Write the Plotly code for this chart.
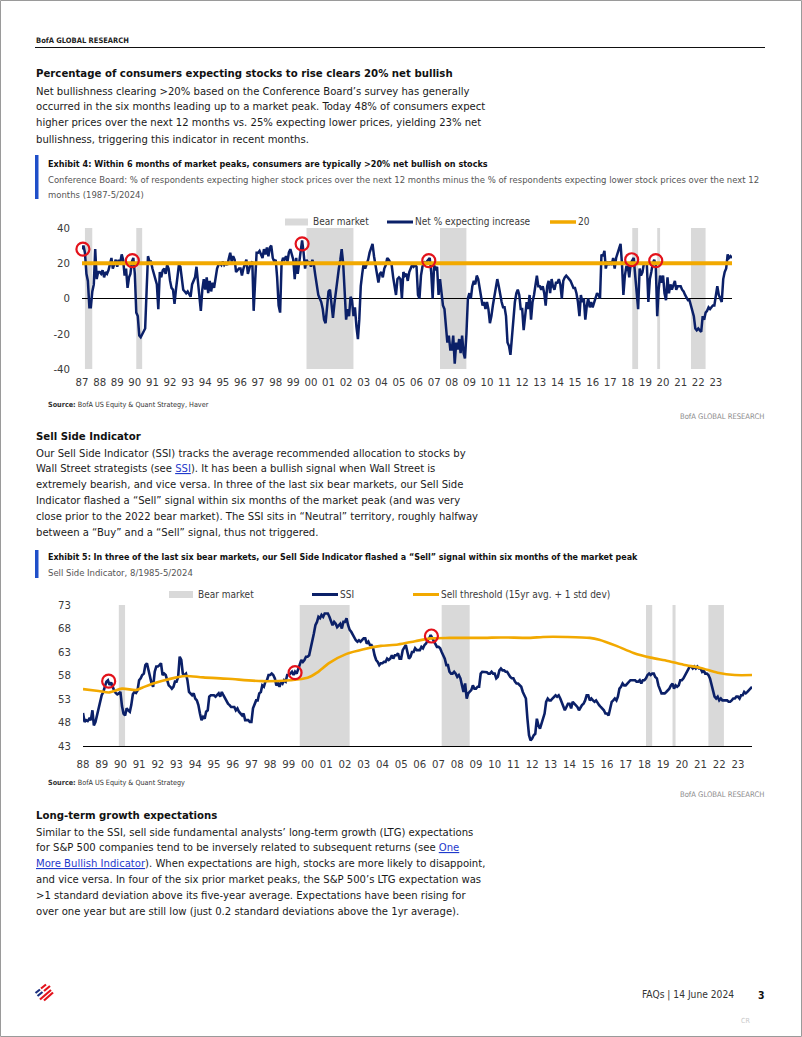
import plotly.graph_objects as go
import pandas as pd

# ---------------- DATA ----------------
# Exhibit 4: Conference Board net % expecting higher stock prices (monthly from Jun-1987)
net_start = "1987-06-01"
net_pct = [
    28, 30, 26, 14, 10, -5, -5, 4, 8, 28, 11, 15,
    15, 14, 16, 12, 15, 14, 16, 19, 23, 17, 19, 22,
    18, 22, 20, 25, 22, 13, 17, 6, 12, 14, 21, 23,
    14, -8, -10, -21, -22, -20, -18, -17, 5, 24, 21, 21,
    17, 14, 12, 8, -6, 15, 12, 16, 17, 14, 19, 17,
    10, 6, 5, -3, 5, 14, 19, 18, 12, 5, 4, 3,
    4, 2, 1, 8, 10, 12, 18, 10, 4, -7, 5, 11,
    5, 12, 3, 10, 4, 9, 6, 13, 17, 19, 20, 19,
    21, 19, 20, 19, 22, 26, 21, 24, 22, 15, 16, 17,
    17, 13, 17, 19, 22, 14, 18, 20, 21, -7, 10, 26,
    26, 27, 25, 23, 28, 25, 29, 24, 29, 30, 23, 21,
    22, 12, -4, -8, 20, 23, 22, 24, 21, 26, 28, 24,
    22, 11, 23, 14, 20, 28, 33, 26, 17, 22, 20, 21,
    18, 22, 19, 13, 7, 2, 0, -2, -6, -12, -14, -3,
    4, 5, -2, -11, -3, 5, 12, 17, 22, 28, 20, 5,
    -12, -6, -10, 1, -1, -10, -5, -16, -23, -12, 7, 14,
    20, 17, 19, 22, 26, 28, 31, 24, 19, 15, 9, 14,
    15, 12, 17, 19, 23, 22, 20, 19, 12, 8, 2, 11,
    12, 11, 0, 15, 13, 14, 10, 15, 17, 19, 18, 19,
    18, 2, 0, 13, 18, 21, 20, 21, 22, 23, 15, 0,
    19, 16, 18, 2, 11, 3, -4, -6, -16, -25, -21, -29,
    -29, -21, -37, -25, -29, -23, -31, -21, -31, -34, -20, 0,
    3, 0, 7, 10, 8, 13, 11, 5, 1, -4, -2, -6,
    -2, -6, -14, -10, -4, 1, 5, 11, 7, 2, -2, -5,
    -5, -10, -25, -27, -32, -22, -10, -2, 3, 5, 2, -6,
    -6, -18, -10, -2, -6, 2, -12, -2, 2, 7, 13, 7,
    7, 5, 7, 3, -4, 7, 10, 3, 11, 7, 5, 9,
    9, 11, 8, 0, 10, 12, 13, 12, 11, 10, 8, 6,
    6, 3, -2, -10, 2, -2, 0, -12, -4, 0, -5, -2,
    -5, -2, 0, 3, 2, 0, 25, 24, 27, 17, 21, 19,
    21, 19, 23, 17, 23, 26, 28, 31, 19, 2, 13, 18,
    18, 12, 20, 22, 23, 13, 3, -6, 17, 13, 15, 20,
    20, 19, -2, 11, 15, 20, 22, 19, -10, 5, 13, 9,
    13, 3, -1, 12, 3, 8, 5, 7, 10, 5, 7, 7,
    7, 5, 4, 2, 0, -1, -1, -4, -6, -10, -17, -18,
    -17, -18, -19, -10, -12, -8, -7, -5, -6, -5, -4, -4,
    2, 7, 2, 0, -2, 11, 15, 17, 25, 23, 24, 23,
]
bullish_level = 20
net_peak_dates = ["1987-06-20", "1990-04-10", "1999-12-01", "2007-02-10", "2018-08-20", "2020-01-01"]
net_peak_vals = [28, 21.5, 31, 21.5, 22, 21.5]
net_tick_dates = [f"{y}-06-01" for y in range(1987, 2024)]
net_tick_text = ["87", "88", "89", "90", "91", "92", "93", "94", "95", "96", "97", "98", "99",
                 "00", "01", "02", "03", "04", "05", "06", "07", "08", "09", "10", "11", "12",
                 "13", "14", "15", "16", "17", "18", "19", "20", "21", "22", "23"]
net_y_ticks = [-40, -20, 0, 20, 40]
net_y_text = ["-40", "-20", "0", "20", "40"]

# Bear markets
bear_starts = ["1987-08-01", "1990-07-01", "2000-03-01", "2007-10-01", "2018-09-01", "2020-02-01", "2022-01-01"]
bear_ends = ["1987-12-31", "1990-10-31", "2002-10-31", "2009-03-31", "2018-12-31", "2020-03-31", "2022-10-31"]

# Exhibit 5: Sell Side Indicator (monthly from Aug-1988)
ssi_start = "1988-08-01"
ssi = [
    50.0, 48.1, 48.5, 48.3, 48.8, 48.5, 50.6, 47.4, 48.1, 49.5, 51.3, 52.7,
    53.8, 54.5, 55.9, 56.7, 57.0, 56.0, 56.5, 55.5, 54.8, 54.3, 54.0, 54.2,
    54.5, 51.5, 49.9, 49.5, 51.0, 50.6, 50.3, 51.7, 54.0, 54.5, 54.3, 54.8,
    57.0, 57.4, 58.1, 58.4, 60.2, 60.6, 59.1, 58.1, 56.3, 55.6, 58.8, 59.9,
    59.9, 60.2, 60.6, 58.1, 58.4, 58.1, 56.7, 55.9, 55.6, 55.2, 55.6, 56.7,
    56.7, 57.7, 62.0, 61.3, 58.4, 58.1, 58.4, 57.0, 54.5, 54.2, 53.8, 54.2,
    53.1, 52.7, 51.7, 49.9, 48.5, 49.2, 48.8, 50.3, 50.6, 53.5, 53.8, 53.8,
    53.8, 53.5, 53.8, 54.2, 53.5, 54.5, 53.8, 53.1, 52.7, 52.0, 51.7, 51.3,
    51.3, 51.3, 50.6, 51.0, 50.3, 49.9, 49.5, 49.9, 48.5, 48.5, 48.5, 48.1,
    48.1, 51.0, 51.7, 52.7, 52.7, 54.2, 54.5, 55.9, 55.6, 56.7, 57.0, 58.1,
    58.1, 58.4, 58.1, 57.4, 55.9, 56.3, 55.6, 56.7, 56.3, 57.0, 56.7, 58.1,
    58.1, 58.4, 58.8, 58.1, 58.8, 58.4, 59.5, 60.6, 61.3, 60.9, 61.3, 62.0,
    62.0, 62.3, 64.1, 65.5, 66.9, 68.7, 69.4, 70.5, 70.2, 70.9, 70.5, 71.2,
    71.2, 71.2, 70.5, 69.4, 68.7, 69.4, 69.0, 68.3, 68.7, 69.0, 68.0, 69.4,
    69.4, 70.2, 68.7, 67.7, 67.3, 66.6, 66.2, 65.5, 65.2, 65.5, 65.2, 65.5,
    65.9, 65.9, 64.8, 65.2, 64.5, 64.5, 63.8, 62.3, 61.3, 60.9, 60.2, 60.6,
    60.6, 60.9, 60.9, 61.6, 61.3, 61.6, 62.3, 61.6, 62.3, 62.3, 62.7, 61.6,
    61.6, 63.4, 64.1, 64.5, 63.0, 61.6, 62.0, 63.0, 63.0, 63.8, 63.4, 63.4,
    63.4, 64.1, 63.8, 64.5, 64.8, 65.5, 65.9, 66.6, 65.9, 65.2, 64.5, 64.1,
    64.1, 63.8, 63.0, 62.3, 61.6, 60.2, 60.2, 58.8, 58.4, 58.4, 58.8, 58.4,
    57.7, 58.1, 57.4, 55.9, 54.5, 56.3, 53.1, 54.2, 54.5, 54.9, 55.9, 55.2,
    55.2, 55.6, 55.6, 58.4, 58.8, 58.8, 58.7, 58.7, 58.4, 58.4, 58.8, 58.4,
    58.4, 57.4, 57.7, 59.1, 59.5, 59.1, 59.1, 58.8, 58.8, 58.1, 57.7, 57.4,
    57.4, 56.7, 56.3, 56.3, 55.9, 55.6, 54.5, 53.8, 53.1, 48.8, 45.3, 44.2,
    44.6, 45.3, 45.6, 48.8, 47.4, 46.7, 47.8, 49.2, 49.9, 52.4, 53.1, 52.7,
    52.7, 53.1, 53.5, 53.8, 53.5, 53.8, 53.1, 52.4, 51.3, 50.6, 51.3, 52.0,
    52.0, 51.0, 52.4, 52.0, 51.7, 51.3, 50.6, 51.3, 51.7, 52.0, 52.7, 53.8,
    53.8, 52.7, 53.1, 52.7, 52.4, 52.7, 52.0, 51.7, 51.3, 51.0, 50.6, 49.9,
    49.9, 49.5, 51.0, 52.4, 52.7, 53.1, 52.7, 53.5, 55.2, 55.6, 56.3, 55.9,
    55.9, 56.3, 56.7, 57.0, 57.0, 57.0, 57.0, 56.7, 56.7, 57.0, 56.3, 57.0,
    57.0, 57.4, 58.1, 58.4, 58.1, 58.4, 58.4, 57.7, 57.4, 55.9, 54.9, 54.2,
    54.2, 54.2, 54.5, 54.9, 55.2, 55.9, 56.3, 55.2, 55.9, 55.6, 55.9, 57.0,
    57.0, 57.4, 58.1, 58.8, 59.5, 59.9, 59.9, 59.5, 59.9, 59.5, 59.9, 59.5,
    59.5, 58.8, 59.1, 58.4, 58.4, 58.1, 57.4, 56.3, 54.5, 53.5, 53.1, 53.5,
    52.7, 53.1, 52.7, 52.7, 52.7, 52.7, 52.4, 52.4, 52.7, 53.1, 53.1, 53.5,
    53.5, 53.1, 53.8, 53.8, 54.5, 54.2, 54.5, 54.9, 55.2, 55.6,
]
thr_dates = ["1988-08-01", "1989-06-01", "1990-01-01", "1990-09-01", "1991-06-01", "1991-10-01",
             "1992-04-01", "1992-11-01", "1993-08-01", "1994-02-01", "1995-01-01", "1996-05-01",
             "1998-03-01", "1999-09-01", "2000-08-01", "2001-02-01", "2001-10-01", "2002-09-01",
             "2003-08-01", "2004-07-01", "2005-06-01", "2006-05-01", "2007-03-01", "2008-03-01",
             "2010-01-01", "2010-12-01", "2012-07-01", "2013-03-01", "2014-06-01", "2015-09-01",
             "2016-03-01", "2017-02-01", "2018-01-01", "2018-12-01", "2019-11-01", "2020-09-01",
             "2021-08-01", "2022-07-01", "2023-06-01", "2024-05-01"]
thr_vals = [55.1, 54.7, 54.4, 55.2, 54.9, 55.4, 56.2, 56.9, 57.6, 57.9, 57.6, 57.3,
            56.8, 57.0, 57.5, 58.6, 60.7, 62.6, 63.6, 64.3, 64.6, 65.3, 65.9, 66.0,
            66.0, 66.1, 66.0, 66.2, 66.2, 66.0, 65.6, 64.3, 62.8, 61.8, 61.1, 60.3,
            59.6, 58.6, 58.1, 58.1]
ssi_peak_dates = ["1989-12-15", "1999-12-01", "2007-03-15"]
ssi_peak_vals = [56.8, 58.6, 66.4]
ssi_tick_dates = [f"{y}-08-01" for y in range(1988, 2024)]
ssi_tick_text = ["88", "89", "90", "91", "92", "93", "94", "95", "96", "97", "98", "99",
                 "00", "01", "02", "03", "04", "05", "06", "07", "08", "09", "10", "11", "12",
                 "13", "14", "15", "16", "17", "18", "19", "20", "21", "22", "23"]
ssi_y_ticks = [43, 48, 53, 58, 63, 68, 73]

# ---------------- STYLE ----------------
W, H = 802, 1037
FONT = "DejaVu Sans Condensed, Liberation Sans Narrow, Arial Narrow, sans-serif"
NAVY = "#0B2068"
ORANGE = "#F2A900"
GRAY = "#D9D9D9"
RED = "#E3121B"
TXT = "#1a1a1a"

BODY = 11.2
HEAD = 11.3


def X(p):
    return p / W


def Y(p):
    return 1 - p / H


net_dates = pd.date_range(net_start, periods=len(net_pct), freq="MS")
ssi_dates = pd.date_range(ssi_start, periods=len(ssi), freq="MS")

fig = go.Figure()

# Exhibit 4 traces
fig.add_trace(go.Scatter(x=net_dates, y=net_pct, mode="lines", line=dict(color=NAVY, width=2.5),
                         xaxis="x", yaxis="y", showlegend=False, hoverinfo="skip"))
fig.add_trace(go.Scatter(x=[net_dates[0], net_dates[-1]], y=[bullish_level, bullish_level], mode="lines",
                         line=dict(color=ORANGE, width=4), xaxis="x", yaxis="y", showlegend=False))
fig.add_trace(go.Scatter(x=net_peak_dates, y=net_peak_vals, mode="markers", cliponaxis=False,
                         marker=dict(symbol="circle-open", size=13, color=RED, line=dict(width=2.2, color=RED)),
                         xaxis="x", yaxis="y", showlegend=False))

# Exhibit 5 traces
fig.add_trace(go.Scatter(x=ssi_dates, y=ssi, mode="lines", line=dict(color=NAVY, width=2.6),
                         xaxis="x2", yaxis="y2", showlegend=False))
fig.add_trace(go.Scatter(x=thr_dates, y=thr_vals, mode="lines",
                         line=dict(color=ORANGE, width=2.6, shape="spline", smoothing=0.8),
                         xaxis="x2", yaxis="y2", showlegend=False))
fig.add_trace(go.Scatter(x=ssi_peak_dates, y=ssi_peak_vals, mode="markers", cliponaxis=False,
                         marker=dict(symbol="circle-open", size=13, color=RED, line=dict(width=2.2, color=RED)),
                         xaxis="x2", yaxis="y2", showlegend=False))

# bear market bands
for s, e in zip(bear_starts, bear_ends):
    fig.add_shape(type="rect", xref="x", yref="y domain", x0=s, x1=e, y0=0, y1=1,
                  fillcolor=GRAY, line_width=0, layer="below")
    if pd.Timestamp(s) > pd.Timestamp(ssi_start):
        fig.add_shape(type="rect", xref="x2", yref="y2 domain", x0=s, x1=e, y0=0, y1=1,
                      fillcolor=GRAY, line_width=0, layer="below")

tickfont = dict(family=FONT, size=11.3, color="#3a3a3a")
fig.update_layout(
    template="none",
    width=W, height=H, margin=dict(l=0, r=0, t=0, b=0, autoexpand=False),
    paper_bgcolor="white", plot_bgcolor="rgba(0,0,0,0)",
    showlegend=False, hovermode=False,
    xaxis=dict(domain=[X(82), X(732)], anchor="y", type="date", automargin=False,
               range=[net_dates[0], net_dates[-1]], tickvals=net_tick_dates, ticktext=net_tick_text,
               tickfont=tickfont, showgrid=False, zeroline=False, showline=False, ticks="",
               ticklabelstandoff=5),
    yaxis=dict(domain=[Y(369), Y(228)], anchor="x", range=[-40, 40], tickvals=net_y_ticks, ticktext=net_y_text,
               automargin=False,
               tickfont=tickfont, showgrid=False, zeroline=True, zerolinecolor="black", zerolinewidth=1.2,
               showline=False, ticks="", ticklabelstandoff=11),
    xaxis2=dict(domain=[X(83), X(752)], anchor="y2", type="date", automargin=False,
                range=[ssi_dates[0], ssi_dates[-1]], tickvals=ssi_tick_dates, ticktext=ssi_tick_text,
                tickfont=tickfont, showgrid=False, zeroline=False, showline=True, linecolor="black",
                linewidth=1.2, ticks="", ticklabelstandoff=7),
    yaxis2=dict(domain=[Y(746), Y(605)], anchor="x2", range=[43, 73], tickvals=ssi_y_ticks,
                automargin=False,
                tickfont=tickfont, showgrid=False, zeroline=False, showline=False, ticks="",
                ticklabelstandoff=11),
)


def txt(x, y, s, size=BODY, color=TXT, anchor="left"):
    fig.add_annotation(x=X(x), y=Y(y), xref="paper", yref="paper", text=s, showarrow=False,
                       xanchor=anchor, yanchor="middle", align="left",
                       font=dict(family=FONT, size=size, color=color), borderpad=0)


def hline(x0, x1, y, color, width):
    fig.add_shape(type="line", xref="paper", yref="paper", x0=X(x0), x1=X(x1), y0=Y(y), y1=Y(y),
                  line=dict(color=color, width=width))


def box(x0, x1, y0, y1, color):
    fig.add_shape(type="rect", xref="paper", yref="paper", x0=X(x0), x1=X(x1), y0=Y(y1), y1=Y(y0),
                  fillcolor=color, line_width=0)


# page border
fig.add_shape(type="rect", xref="paper", yref="paper", x0=X(0.5), x1=X(801.5), y0=Y(1036.5), y1=Y(0.5),
              line=dict(color="#9a9a9a", width=1))

# header
txt(35, 41, "<b>BofA GLOBAL RESEARCH</b>", 7.5, "#222")
hline(35, 765, 47.5, "#111", 1.2)

LINK = "#1F3ACC"
para1 = [
    "Net bullishness clearing >20% based on the Conference Board’s survey has generally",
    "occurred in the six months leading up to a market peak. Today 48% of consumers expect",
    "higher prices over the next 12 months vs. 25% expecting lower prices, yielding 23% net",
    "bullishness, triggering this indicator in recent months.",
]
txt(35, 74, "<b>Percentage of consumers expecting stocks to rise clears 20% net bullish</b>", HEAD, "#111")
for i, s in enumerate(para1):
    txt(35, 91 + i * 16, s)

# Exhibit 4 header
box(35, 38.5, 155, 199, "#1F4FC9")
txt(47, 164, "<b>Exhibit 4: Within 6 months of market peaks, consumers are typically >20% net bullish on stocks</b>", 9.0, "#111")
txt(47, 179, "Conference Board: % of respondents expecting higher stock prices over the next 12 months minus the % of respondents expecting lower stock prices over the next 12", 9.45, "#555")
txt(47, 194, "months (1987-5/2024)", 9.45, "#555")

# Exhibit 4 legend
LEGF = 10
box(285, 308, 218.5, 225.5, GRAY)
txt(312, 221.5, "Bear market", LEGF, "#3a3a3a")
hline(387, 413, 222, NAVY, 3)
txt(414, 221.5, "Net % expecting increase", LEGF, "#3a3a3a")
hline(550, 576, 222, ORANGE, 3.5)
txt(577, 221.5, "20", LEGF, "#3a3a3a")

txt(47, 404, "<b>Source:</b> BofA US Equity & Quant Strategy, Haver", 7.2, "#333")
txt(765, 416, "BofA GLOBAL RESEARCH", 7.6, "#8a8a8a", anchor="right")

# Sell Side Indicator section
txt(35, 436, "<b>Sell Side Indicator</b>", HEAD, "#111")
para2 = [
    "Our Sell Side Indicator (SSI) tracks the average recommended allocation to stocks by",
    f"Wall Street strategists (see <span style='color:{LINK}'><u>SSI</u></span>). It has been a bullish signal when Wall Street is",
    "extremely bearish, and vice versa. In three of the last six bear markets, our Sell Side",
    "Indicator flashed a “Sell” signal within six months of the market peak (and was very",
    "close prior to the 2022 bear market). The SSI sits in “Neutral” territory, roughly halfway",
    "between a “Buy” and a “Sell” signal, thus not triggered.",
]
for i, s in enumerate(para2):
    txt(35, 453 + i * 15.8, s)

box(35, 38.5, 550, 578, "#1F4FC9")
txt(47, 557, "<b>Exhibit 5: In three of the last six bear markets, our Sell Side Indicator flashed a “Sell” signal within six months of the market peak</b>", 8.9, "#111")
txt(47, 572, "Sell Side Indicator, 8/1985-5/2024", 9.45, "#555")

box(169, 193, 591, 598, GRAY)
txt(197, 594, "Bear market", LEGF, "#3a3a3a")
hline(312, 338, 594.5, NAVY, 3)
txt(339, 594, "SSI", LEGF, "#3a3a3a")
hline(413, 439, 594.5, ORANGE, 3)
txt(440, 594, "Sell threshold (15yr avg. + 1 std dev)", LEGF, "#3a3a3a")

txt(47, 782, "<b>Source:</b> BofA US Equity & Quant Strategy", 7.2, "#333")
txt(765, 794, "BofA GLOBAL RESEARCH", 7.6, "#8a8a8a", anchor="right")

txt(35, 815, "<b>Long-term growth expectations</b>", HEAD, "#111")
para3 = [
    "Similar to the SSI, sell side fundamental analysts’ long-term growth (LTG) expectations",
    f"for S&amp;P 500 companies tend to be inversely related to subsequent returns (see <span style='color:{LINK}'><u>One</u></span>",
    f"<span style='color:{LINK}'><u>More Bullish Indicator</u></span>). When expectations are high, stocks are more likely to disappoint,",
    "and vice versa. In four of the six prior market peaks, the S&amp;P 500’s LTG expectation was",
    ">1 standard deviation above its five-year average. Expectations have been rising for",
    "over one year but are still low (just 0.2 standard deviations above the 1yr average).",
]
for i, s in enumerate(para3):
    txt(35, 832 + i * 15.8, s)

# footer
txt(735, 995, "FAQs | 14 June 2024", 10.2, "#333", anchor="right")
txt(757, 995, "<b>3</b>", 10.4, "#111")
txt(740, 1021, "CR", 7, "#c8c8c8")


def seg(x0, y0, x1, y1, color, w=2.2):
    fig.add_shape(type="line", xref="paper", yref="paper", x0=X(x0), y0=Y(y0), x1=X(x1), y1=Y(y1),
                  line=dict(color=color, width=w))


# logo stripes
seg(35.5, 993, 40, 989.5, "#1B2F80")
seg(37.5, 996, 42.5, 992, "#1B2F80")
seg(41, 988.5, 46, 984.5, RED)
seg(44, 991, 50, 986, RED)
seg(40, 999.5, 51, 990, RED)
seg(44, 1000.5, 53, 992.5, RED)

fig.write_html("out.html")
